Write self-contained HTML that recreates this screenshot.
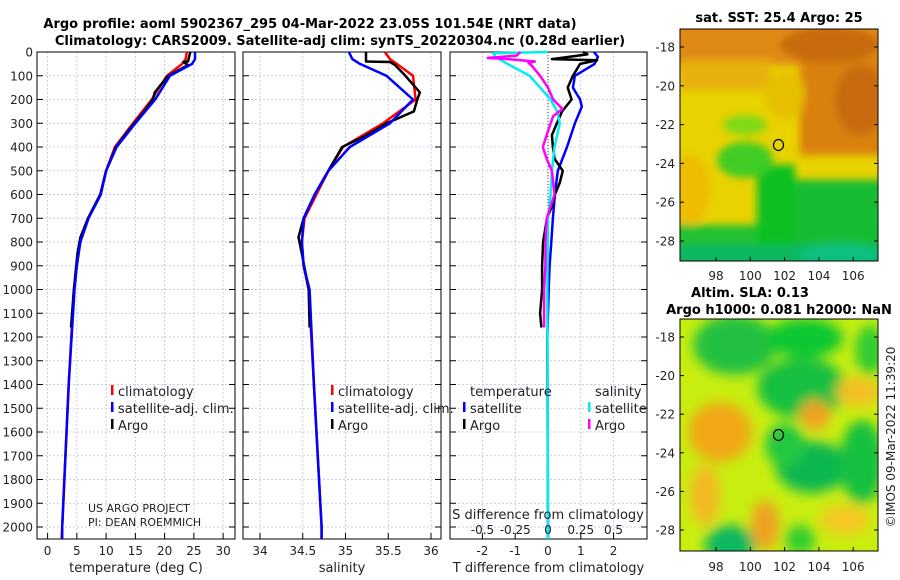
<!DOCTYPE html>
<html><head><meta charset="utf-8"><style>
body{margin:0;background:#fff}
svg{display:block;font-family:"DejaVu Sans","Liberation Sans",sans-serif}
</style></head><body>
<svg id="fig" width="900" height="580" viewBox="0 0 900 580">
<defs>
<filter id="bl" x="-50%" y="-50%" width="200%" height="200%"><feGaussianBlur stdDeviation="6"/></filter>
<filter id="bl2" x="-50%" y="-50%" width="200%" height="200%"><feGaussianBlur stdDeviation="4"/></filter>
<clipPath id="c1"><rect x="680" y="29" width="198" height="232"/></clipPath>
<clipPath id="c2"><rect x="680" y="319" width="198" height="232"/></clipPath>
</defs>
<text x="310" y="28" text-anchor="middle" font-weight="bold" font-size="13">Argo profile: aoml 5902367_295 04-Mar-2022 23.05S 101.54E (NRT data)</text>
<text x="340" y="45" text-anchor="middle" font-weight="bold" font-size="13">Climatology: CARS2009. Satellite-adj clim: synTS_20220304.nc (0.28d earlier)</text>

<g id="profiles"></g>

<!-- SST map -->
<text x="779" y="22" text-anchor="middle" font-weight="bold" font-size="13">sat. SST: 25.4 Argo: 25</text>
<g clip-path="url(#c1)">
<rect x="680" y="29" width="198" height="232" fill="#e8d200"/>
<g filter="url(#bl2)">
<rect x="670" y="20" width="220" height="45" fill="#e08a12"/>
<rect x="680" y="60" width="90" height="30" fill="#e8b008"/>
<rect x="800" y="60" width="90" height="95" fill="#d98010"/>
<ellipse cx="830" cy="45" rx="50" ry="18" fill="#c86a08"/>
<ellipse cx="860" cy="100" rx="25" ry="35" fill="#c86a08"/>
<ellipse cx="785" cy="95" rx="20" ry="25" fill="#e6c000"/>
<ellipse cx="690" cy="190" rx="20" ry="35" fill="#eebc00"/>
<rect x="670" y="225" width="220" height="50" fill="#20c030"/>
<rect x="795" y="180" width="90" height="85" fill="#18bd30"/>
<rect x="757" y="165" width="38" height="100" fill="#10c020"/>
<ellipse cx="745" cy="160" rx="28" ry="18" fill="#40cc28"/>
<ellipse cx="745" cy="125" rx="22" ry="10" fill="#80d818"/>
<rect x="670" y="245" width="220" height="30" fill="#10b860"/>
<ellipse cx="840" cy="255" rx="40" ry="12" fill="#10c080"/>
</g>
</g>
<rect x="680" y="29" width="198" height="232" fill="none" stroke="#000" stroke-width="1"/>
<ellipse cx="778.5" cy="145" rx="5" ry="5.5" fill="none" stroke="#000" stroke-width="1.2"/>
<g id="maxes1"></g>

<!-- SLA map -->
<text x="750" y="297" text-anchor="middle" font-weight="bold" font-size="13">Altim. SLA: 0.13</text>
<text x="779" y="314" text-anchor="middle" font-weight="bold" font-size="13">Argo h1000: 0.081 h2000: NaN</text>
<g clip-path="url(#c2)">
<rect x="680" y="319" width="198" height="232" fill="#c8ee10"/>
<g filter="url(#bl)">
<ellipse cx="735" cy="345" rx="42" ry="30" fill="#20c040"/>
<ellipse cx="805" cy="338" rx="38" ry="20" fill="#10c830"/>
<ellipse cx="802" cy="388" rx="45" ry="30" fill="#18c040"/>
<ellipse cx="870" cy="350" rx="15" ry="25" fill="#30cc30"/>
<ellipse cx="812" cy="467" rx="36" ry="26" fill="#10b850"/>
<ellipse cx="785" cy="445" rx="20" ry="22" fill="#20c840"/>
<ellipse cx="862" cy="462" rx="22" ry="42" fill="#18c040"/>
<ellipse cx="730" cy="545" rx="25" ry="20" fill="#10b860"/>
<ellipse cx="800" cy="540" rx="15" ry="15" fill="#30cc30"/>
<ellipse cx="720" cy="432" rx="32" ry="30" fill="#f0a818"/>
<ellipse cx="815" cy="415" rx="15" ry="15" fill="#f0a020"/>
<ellipse cx="858" cy="392" rx="22" ry="15" fill="#f4c020"/>
<ellipse cx="705" cy="495" rx="15" ry="30" fill="#f4b820"/>
<ellipse cx="765" cy="525" rx="14" ry="25" fill="#f0a020"/>
<ellipse cx="845" cy="520" rx="25" ry="15" fill="#f4c820"/>
</g>
</g>
<rect x="680" y="319" width="198" height="232" fill="none" stroke="#000" stroke-width="1"/>
<ellipse cx="778.5" cy="435" rx="5" ry="5.5" fill="none" stroke="#000" stroke-width="1.2"/>
<g id="maxes2"></g>
<text transform="translate(895,437) rotate(-90)" text-anchor="middle" font-size="12" fill="#222">©IMOS 09-Mar-2022 11:39:20</text>
</svg>
<script>
// ---- data ----
const depthTicks=[0,100,200,300,400,500,600,700,800,900,1000,1100,1200,1300,1400,1500,1600,1700,1800,1900,2000];
const tempTicks=[0,5,10,15,20,25,30];
const salTicks=[34,34.5,35,35.5,36];
const tdTicks=[-2,-1,0,1,2];
const tdTickLabels=["-2","-1","0","1","2"];
const sdTicks=[-0.5,-0.25,0,0.25,0.5];
const sdTickLabels=["-0.5","-0.25","0","0.25","0.5"];
const latTicks=[-18,-20,-22,-24,-26,-28];
const lonTicks=[98,100,102,104,106];

const climDepth=[0,30,50,100,200,300,400,500,600,700,800,900,1000,1400,2000,2050];
const tempClim=[23.8,23.6,23.0,20.4,17.8,14.6,11.5,10.0,9.0,6.9,5.5,5.0,4.5,3.6,2.5,2.4];
const tempSat=[25.2,25.2,24.7,20.9,18.4,15.0,11.8,10.0,9.1,7.0,5.6,5.0,4.6,3.6,2.5,2.5];
const salClim=[35.46,35.52,35.6,35.79,35.82,35.44,34.97,34.8,34.66,34.52,34.49,34.51,34.57,34.63,34.72,34.72];
const salSat=[35.04,35.08,35.17,35.48,35.79,35.52,35.05,34.8,34.64,34.51,34.49,34.51,34.58,34.63,34.72,34.72];

const argoDepth=[0,40,42,55,100,170,200,250,300,350,400,500,600,700,780,850,1000,1160];
const tempArgo=[24.4,24.0,23.2,24.0,20.6,18.3,18.0,16.5,14.8,13.2,11.7,10.0,9.0,6.9,5.6,5.1,4.5,4.0];
const salArgo=[35.24,35.24,35.52,35.58,35.7,35.87,35.84,35.8,35.48,35.25,34.96,34.8,34.64,34.51,34.45,34.49,34.57,34.58];

const tdSatDepth=[0,20,50,100,150,200,230,300,400,500,600,700,800,900,1000,1200,2000,2050];
const tdSat=[1.4,1.52,1.42,0.82,0.76,0.98,1.03,0.82,0.58,0.3,0.21,0.15,0.1,0.05,0.02,-0.02,0,0];
const tdArgoDepth=[0,10,30,35,50,100,150,200,250,300,350,400,450,500,550,600,650,700,800,900,1000,1100,1160];
const tdArgo=[1.07,1.2,0.12,1.5,0.98,0.76,0.6,0.72,0.43,0.27,0.12,0.15,0.2,0.45,0.36,0.21,0.12,-0.03,-0.15,-0.18,-0.18,-0.24,-0.2];
const sdSatDepth=[0,5,20,50,100,150,200,250,300,400,500,600,700,1000,2000,2050];
const sdSat=[0,-0.42,-0.4,-0.31,-0.14,-0.06,0.02,0.07,0.09,0.05,0.03,0.02,0.0,-0.005,0,0];
const sdArgoDepth=[0,15,25,30,40,45,60,100,150,200,240,270,300,350,400,450,500,600,650,700,800,900,1000,1160];
const sdArgo=[-0.21,-0.24,-0.46,-0.31,-0.1,-0.15,-0.12,-0.06,0,0.04,0.11,0.04,0.02,-0.01,-0.04,-0.01,0.03,0.05,0.02,-0.01,-0.02,-0.02,-0.03,-0.03];

// ---- drawing ----
const NS="http://www.w3.org/2000/svg";
function mk(tag,attrs,parent){const e=document.createElementNS(NS,tag);for(const k in attrs)e.setAttribute(k,attrs[k]);parent.appendChild(e);return e;}
const root=document.getElementById('profiles');
const Y0=52,YB=539;
const yD=d=>Y0+d*0.2375;
const panels=[
 {x0:37,x1:235,fx:v=>47.6+v*5.85,ticks:tempTicks,labels:tempTicks.map(String),title:"temperature (deg C)",name:"temperature-panel"},
 {x0:243,x1:441,fx:v=>260+(v-34)*85.5,ticks:salTicks,labels:salTicks.map(String),title:"salinity",name:"salinity-panel"},
 {x0:450,x1:647,fx:v=>548+v*32.8,ticks:tdTicks,labels:tdTickLabels,title:"T difference from climatology",name:"difference-panel"}
];
const fS=v=>548+v*131;
panels.forEach((p,i)=>{
 const g=mk('g',{},root);
 
 
 depthTicks.forEach(d=>{mk('line',{x1:p.x0,x2:p.x1,y1:yD(d),y2:yD(d),stroke:'#b8c0e0','stroke-width':0.8,'stroke-dasharray':'2,2'},g);
  mk('line',{x1:p.x0,x2:p.x0+6,y1:yD(d),y2:yD(d),stroke:'#000'},g);mk('line',{x1:p.x1-6,x2:p.x1,y1:yD(d),y2:yD(d),stroke:'#000'},g);});
 p.ticks.forEach((t,j)=>{const x=p.fx(t);
  mk('line',{x1:x,x2:x,y1:Y0,y2:YB,stroke:'#b8c0e0','stroke-width':0.8,'stroke-dasharray':'2,2'},g);
  mk('line',{x1:x,x2:x,y1:YB-6,y2:YB,stroke:'#000'},g);
  const t2=mk('text',{x:x,y:555,'text-anchor':'middle','font-size':12,fill:'#222'},g);t2.textContent=p.labels[j];
  
  });
 mk('rect',{x:p.x0,y:Y0,width:p.x1-p.x0,height:YB-Y0,fill:'none',stroke:'#000','stroke-width':1},g);
 const tt=mk('text',{x:(p.x0+p.x1)/2,y:572,'text-anchor':'middle','font-size':13,fill:'#222'},g);tt.textContent=p.title;
 
 
});
depthTicks.forEach(d=>{const t=mk('text',{x:33,y:yD(d)+4.5,'text-anchor':'end','font-size':12,fill:'#222'},root);t.textContent=d;
 
 });
mk('line',{x1:548,x2:548,y1:Y0,y2:YB,stroke:'#444','stroke-width':1,'stroke-dasharray':'1,2'},root);
function line(depths,vals,fx,color,name,w){
 const pts=depths.map((d,i)=>fx(vals[i]).toFixed(1)+','+yD(d).toFixed(1)).join(' ');
 const l=mk('polyline',{points:pts,fill:'none',stroke:color,'stroke-width':w||2.5,'stroke-linejoin':'round'},root);
 
 
}
const P=panels;
line(climDepth,tempClim,P[0].fx,'#f00','temp-climatology-line');
line(argoDepth,tempArgo,P[0].fx,'#000','temp-argo-line');
line(climDepth,tempSat,P[0].fx,'#00f','temp-satellite-line');
line(climDepth,salClim,P[1].fx,'#f00','sal-climatology-line');
line(argoDepth,salArgo,P[1].fx,'#000','sal-argo-line');
line(climDepth,salSat,P[1].fx,'#00f','sal-satellite-line');
line(tdSatDepth,tdSat,P[2].fx,'#00f','tdiff-satellite-line');
line(tdArgoDepth,tdArgo,P[2].fx,'#000','tdiff-argo-line');
line(sdSatDepth,sdSat,fS,'#0ee','sdiff-satellite-line');
line(sdArgoDepth,sdArgo,fS,'#f0f','sdiff-argo-line');
sdTicks.forEach((t,j)=>{const e=mk('text',{x:fS(t),y:534,'text-anchor':'middle','font-size':12,fill:'#222'},root);e.textContent=sdTickLabels[j];
 
 });
{const e=mk('text',{x:548,y:519,'text-anchor':'middle','font-size':13,fill:'#222'},root);e.textContent='S difference from climatology';
 
 }
function leg(x,y,color,label){
 const g=mk('g',{},root);
 
 
 if(color) mk('rect',{x:x-7,y:y-11,width:2.5,height:10,fill:color},g);
 const t=mk('text',{x:x,y:y,'font-size':13,fill:'#222'},g);t.textContent=label;
}
leg(118,396,'#f00','climatology');leg(118,413,'#00f','satellite-adj. clim.');leg(118,430,'#000','Argo');
leg(338,396,'#f00','climatology');leg(338,413,'#00f','satellite-adj. clim.');leg(338,430,'#000','Argo');
leg(470,396,null,'temperature');leg(595,396,null,'salinity');
leg(470,413,'#00f','satellite');leg(470,430,'#000','Argo');
leg(595,413,'#0ee','satellite');leg(595,430,'#f0f','Argo');
{const t=mk('text',{x:88,y:512,'font-size':11,fill:'#222'},root);t.textContent='US ARGO PROJECT';
 
 
 const u=mk('text',{x:88,y:526,'font-size':11,fill:'#222'},root);u.textContent='PI: DEAN ROEMMICH';
 
 }
function mapAxes(id,top,y18,y28,labY){
 const g=document.getElementById(id);
 const ly=v=>y18+(v+18)*(y28-y18)/(-10);
 const lx=v=>716+(v-98)*17.15;
 latTicks.forEach(v=>{const y=ly(v);
  mk('line',{x1:680,x2:684,y1:y,y2:y,stroke:'#000'},g);mk('line',{x1:874,x2:878,y1:y,y2:y,stroke:'#000'},g);
  const t=mk('text',{x:675,y:y+4.5,'text-anchor':'end','font-size':12,fill:'#222'},g);t.textContent=v;
  
  });
 lonTicks.forEach(v=>{const x=lx(v);
  mk('line',{x1:x,x2:x,y1:top+228,y2:top+232,stroke:'#000'},g);
  const t=mk('text',{x:x,y:labY,'text-anchor':'middle','font-size':12,fill:'#222'},g);t.textContent=v;
  
  });
}
mapAxes('maxes1',29,47,241,280);
mapAxes('maxes2',319,337,530,571);
</script>
</body></html>
